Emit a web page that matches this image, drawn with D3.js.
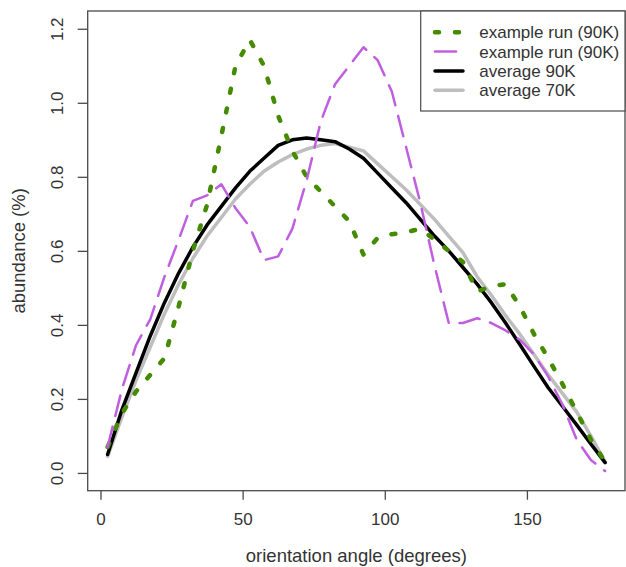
<!DOCTYPE html>
<html>
<head>
<meta charset="utf-8">
<script src="https://cdn.jsdelivr.net/npm/d3@7"></script>
<style>
    body { margin: 0; background: #fff; }
    svg { display: block; font-family: "Liberation Sans", Arial, sans-serif; }
</style>
</head>
<body>
<div id="chart"></div>
<script>
// orientation bins (degrees, bin centres)
const angles = [2.5, 7.5, 12.5, 17.5, 22.5, 27.5, 32.5, 37.5, 42.5, 47.5,
    52.5, 57.5, 62.5, 67.5, 72.5, 77.5, 82.5, 87.5, 92.5, 97.5,
    102.5, 107.5, 112.5, 117.5, 122.5, 127.5, 132.5, 137.5, 142.5, 147.5,
    152.5, 157.5, 162.5, 167.5, 172.5, 177.5];

// abundance (%)
const runGreen = [0.07, 0.16, 0.22, 0.265, 0.31, 0.45, 0.60, 0.725, 0.91, 1.10,
    1.17, 1.10, 0.965, 0.87, 0.80, 0.76, 0.72, 0.68, 0.59, 0.635,
    0.645, 0.65, 0.66, 0.63, 0.60, 0.57, 0.49, 0.505, 0.51, 0.45,
    0.375, 0.31, 0.24, 0.165, 0.09, 0.03];
const runPurple = [0.07, 0.225, 0.345, 0.415, 0.53, 0.63, 0.735, 0.75, 0.78, 0.715,
    0.665, 0.575, 0.585, 0.66, 0.79, 0.95, 1.05, 1.10, 1.15, 1.115,
    1.03, 0.88, 0.73, 0.56, 0.405, 0.405, 0.418, 0.405, 0.385, 0.36,
    0.32, 0.26, 0.185, 0.09, 0.035, 0.005];
const avg90 = [0.05, 0.17, 0.27, 0.37, 0.46, 0.54, 0.61, 0.67, 0.72, 0.77,
    0.815, 0.85, 0.885, 0.90, 0.905, 0.90, 0.895, 0.875, 0.85, 0.81,
    0.77, 0.73, 0.685, 0.64, 0.60, 0.555, 0.51, 0.46, 0.405, 0.347,
    0.288, 0.23, 0.18, 0.13, 0.078, 0.028];
const avg70 = [0.045, 0.15, 0.25, 0.34, 0.43, 0.51, 0.58, 0.64, 0.69, 0.74,
    0.78, 0.815, 0.84, 0.86, 0.875, 0.885, 0.89, 0.88, 0.87, 0.835,
    0.80, 0.765, 0.725, 0.685, 0.64, 0.595, 0.53, 0.48, 0.425, 0.375,
    0.32, 0.265, 0.215, 0.165, 0.10, 0.03];

const xTicks = [0, 50, 100, 150];
const yTicks = [0, 0.2, 0.4, 0.6, 0.8, 1.0, 1.2];

const seriesNames = ["example run (90K)", "example run (90K)", "average 90K", "average 70K"];
const seriesValues = [runGreen, runPurple, avg90, avg70];

const styles = [
    { color: "#458B00", width: 4.5, dash: "4 16" },
    { color: "#BF5FE0", width: 2.5, dash: "21 11" },
    { color: "#000000", width: 3.5, dash: null },
    { color: "#BEBEBE", width: 3.5, dash: null }
];

const width = 626, height = 567;
const box = { left: 87.7, right: 625, top: 11, bottom: 490.7 };

const svg = d3.select("#chart").append("svg")
    .attr("width", width)
    .attr("height", height);

// R-style 4% padding around xlim = [2.5, 177.5], ylim = [0, 1.2]
const x = d3.scaleLinear().domain([-4.5, 184.5]).range([box.left, box.right]);
const y = d3.scaleLinear().domain([-0.048, 1.248]).range([box.bottom, box.top]);

const line = d3.line()
    .x(d => x(d[0]))
    .y(d => y(d[1]));

// draw order: grey, black, green, purple
const order = [3, 2, 0, 1];
order.forEach(i => {
    const pts = angles.map((a, j) => [a, seriesValues[i][j]]);
    const s = styles[i];
    svg.append("path")
        .datum(pts)
        .attr("fill", "none")
        .attr("stroke", s.color)
        .attr("stroke-width", s.width)
        .attr("stroke-linecap", "round")
        .attr("stroke-linejoin", "round")
        .attr("stroke-dasharray", s.dash)
        .attr("d", line);
});

// plot frame
svg.append("rect")
    .attr("x", box.left)
    .attr("y", box.top)
    .attr("width", box.right - box.left)
    .attr("height", box.bottom - box.top)
    .attr("fill", "none")
    .attr("stroke", "#4a4a4a")
    .attr("stroke-width", 1.3);

// x axis
const xAxis = svg.append("g")
    .attr("transform", `translate(0, ${box.bottom})`)
    .call(d3.axisBottom(x).tickValues(xTicks).tickSize(9).tickPadding(13));
xAxis.select(".domain").remove();
xAxis.selectAll("line").attr("stroke", "#4a4a4a").attr("stroke-width", 1.3);
xAxis.selectAll("text")
    .attr("fill", "#333")
    .style("font-size", "17px");

// y axis, labels rotated like R
const yAxis = svg.append("g")
    .attr("transform", `translate(${box.left}, 0)`)
    .call(d3.axisLeft(y).tickValues(yTicks).tickSize(10).tickFormat(d3.format(".1f")));
yAxis.select(".domain").remove();
yAxis.selectAll("line").attr("stroke", "#4a4a4a").attr("stroke-width", 1.3);
yAxis.selectAll("text")
    .attr("fill", "#333")
    .style("font-size", "17px")
    .attr("text-anchor", "middle")
    .attr("x", null)
    .attr("dy", null)
    .attr("transform", "translate(-25, 0) rotate(-90)");

// axis titles
svg.append("text")
    .attr("x", (box.left + box.right) / 2)
    .attr("y", 562)
    .attr("text-anchor", "middle")
    .attr("fill", "#333")
    .style("font-size", "18.5px")
    .text("orientation angle (degrees)");

svg.append("text")
    .attr("transform", `translate(25, ${(box.top + box.bottom) / 2}) rotate(-90)`)
    .attr("text-anchor", "middle")
    .attr("fill", "#333")
    .style("font-size", "18.5px")
    .text("abundance (%)");

// legend
const legend = svg.append("g");
legend.append("rect")
    .attr("x", 420.7)
    .attr("y", box.top)
    .attr("width", box.right - 420.7)
    .attr("height", 100)
    .attr("fill", "#fff")
    .attr("stroke", "#4a4a4a")
    .attr("stroke-width", 1.2);

seriesNames.forEach((name, i) => {
    const cy = 32.3 + i * 19.3;
    const s = styles[i];
    legend.append("line")
        .attr("x1", 435).attr("x2", 463)
        .attr("y1", cy).attr("y2", cy)
        .attr("stroke", s.color)
        .attr("stroke-width", s.width)
        .attr("stroke-linecap", "round")
        .attr("stroke-dasharray", s.dash);
    legend.append("text")
        .attr("x", 479.3)
        .attr("y", cy)
        .attr("dy", "0.35em")
        .attr("fill", "#333")
        .style("font-size", "17px")
        .text(name);
});
</script>
</body>
</html>
